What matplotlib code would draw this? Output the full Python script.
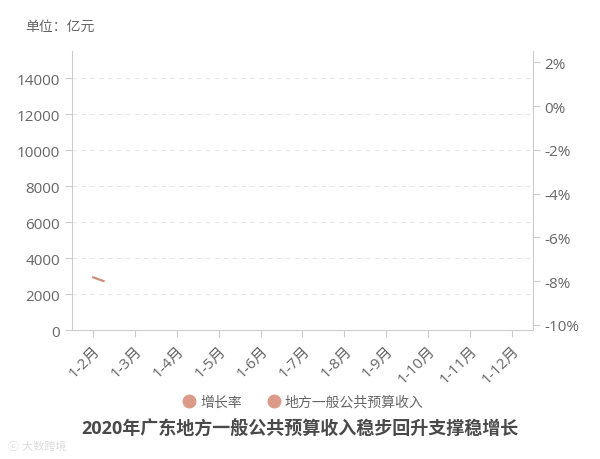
import numpy as np
import matplotlib.pyplot as plt
from matplotlib.lines import Line2D

plt.rcParams['font.family'] = ['Open Sans', 'Noto Sans CJK SC', 'DejaVu Sans']

# Data (the chart is captured mid-animation: only the start of the growth line is drawn)
months = ['1-2月', '1-3月', '1-4月', '1-5月', '1-6月', '1-7月',
          '1-8月', '1-9月', '1-10月', '1-11月', '1-12月']
growth = [-7.83, -8.5]          # 增长率 (%), first two points
progress = 0.26                 # fraction of first segment drawn

line_color = '#cc8f7b'
legend_color = '#dc9a88'
text_color = '#666666'
axis_color = '#cccccc'

fig = plt.figure(figsize=(6, 4.6), dpi=100)
ax = fig.add_axes([0.12, 0.2804, 0.768, 0.6072])
ax2 = ax.twinx()

x = np.arange(len(months))
ax.set_xlim(-0.5, len(months) - 0.5)
ax.set_ylim(0, 15540)
ax.set_yticks(range(0, 15000, 2000))
ax.grid(axis='y', color='#e6e6e6', linestyle=(0, (4, 4)), linewidth=0.8)
ax.set_axisbelow(True)

ax2.set_ylim(-10.24, 2.53)
ax2.set_yticks(range(-10, 3, 2))
ax2.set_yticklabels([f'{v}%' for v in range(-10, 3, 2)])

# partial growth line
x_end = progress
y_end = np.interp(x_end, [0, 1], growth)
ax2.plot([0, x_end], [growth[0], y_end], color=line_color, lw=1.6,
         solid_capstyle='round')

ax.set_xticks(x)
ax.set_xticklabels(months, rotation=45, ha='right', va='top',
                   rotation_mode='anchor')

for a in (ax, ax2):
    for s in a.spines.values():
        s.set_visible(False)
    a.tick_params(colors=axis_color, labelcolor=text_color, labelsize=11,
                  length=5, width=0.8)
ax.spines['left'].set_visible(True)
ax.spines['left'].set_color(axis_color)
ax.spines['bottom'].set_visible(True)
ax.spines['bottom'].set_color(axis_color)
ax2.spines['right'].set_visible(True)
ax2.spines['right'].set_color(axis_color)
ax.tick_params(axis='x', labelsize=11, pad=4)

fig.text(25 / 600, 1 - 27 / 460, '单位：亿元', color=text_color, fontsize=10,
         va='center', ha='left')

handles = [Line2D([], [], marker='o', color=legend_color, linestyle='none',
                  markersize=9),
           Line2D([], [], marker='o', color=legend_color, linestyle='none',
                  markersize=9)]
fig.legend(handles, ['增长率', '地方一般公共预算收入'], loc='center',
           bbox_to_anchor=(0.505, 1 - 403 / 460), ncol=2, frameon=False,
           fontsize=10, labelcolor=text_color, handletextpad=0.3,
           handlelength=1.0, columnspacing=1.8)

fig.text(0.5, 1 - 430 / 460, '2020年广东地方一般公共预算收入稳步回升支撑稳增长',
         ha='center', va='center', fontsize=13, fontweight='bold',
         color='#4a4a4a')

fig.text(8 / 600, 1 - 447 / 460, 'ⓒ 大数跨境', color='#dddddd', fontsize=8,
         ha='left', va='center')

fig.savefig('out.png', dpi=100)
